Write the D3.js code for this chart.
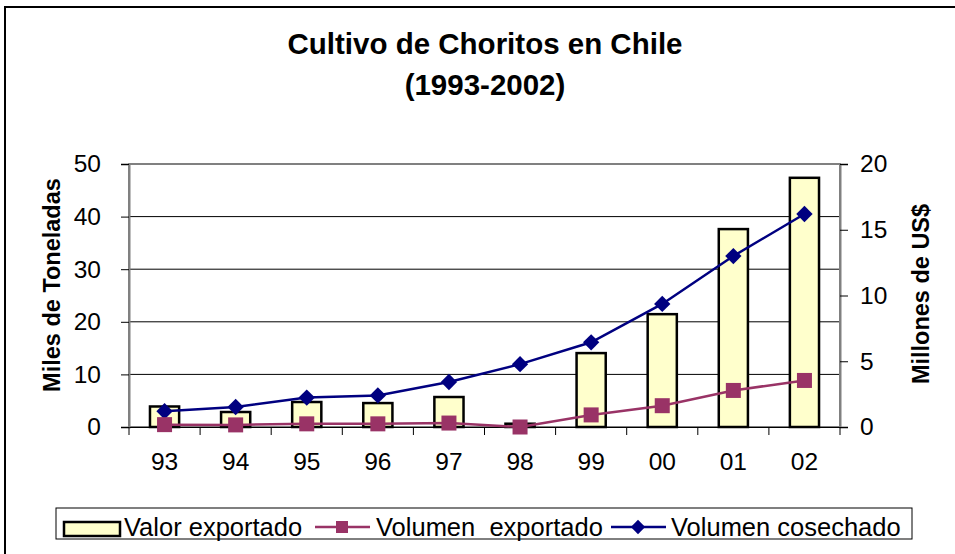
<!DOCTYPE html>
<html>
<head>
<meta charset="utf-8">
<script src="https://cdn.jsdelivr.net/npm/d3@7"></script>
<style>
  body { margin: 0; background: #fff; }
  svg { display: block; font-family: "Liberation Sans", Arial, sans-serif; }
</style>
</head>
<body>
<svg id="chart" width="955" height="554"></svg>
<script>
// data
var years = ["93", "94", "95", "96", "97", "98", "99", "00", "01", "02"];
var valorExportado = [1.56, 1.14, 1.9, 1.82, 2.28, 0.25, 5.62, 8.58, 15.05, 18.95];   // millones US$
var volumenExportado = [0.45, 0.4, 0.6, 0.6, 0.75, 0.0, 2.3, 4.05, 6.95, 8.85];       // miles de toneladas
var volumenCosechado = [3.0, 3.8, 5.6, 6.0, 8.55, 11.95, 16.1, 23.4, 32.5, 40.5];     // miles de toneladas
var leftTicks = [0, 10, 20, 30, 40, 50];
var rightTicks = [0, 5, 10, 15, 20];

var svg = d3.select("#chart");
var pLeft = 129, pRight = 840, pTop = 164, pBottom = 427;

var x = d3.scaleBand().domain(years).range([pLeft, pRight]).padding(0);
var yL = d3.scaleLinear().domain([0, 50]).range([pBottom, pTop]);
var yR = d3.scaleLinear().domain([0, 20]).range([pBottom, pTop]);
var barW = x.bandwidth() * 0.41;
var cx = function(d) { return x(d) + x.bandwidth() / 2; };

// outer frame
svg.append("rect").attr("x", 5).attr("y", 7).attr("width", 980).attr("height", 580)
  .attr("fill", "none").attr("stroke", "#000").attr("stroke-width", 2);

// title
svg.append("text").attr("x", 485).attr("y", 54).attr("text-anchor", "middle")
  .attr("font-size", 29.5).attr("font-weight", "bold").text("Cultivo de Choritos en Chile");
svg.append("text").attr("x", 485).attr("y", 95).attr("text-anchor", "middle")
  .attr("font-size", 29.5).attr("font-weight", "bold").text("(1993-2002)");

// gridlines
svg.append("g").selectAll("line").data(leftTicks.slice(1, -1)).enter().append("line")
  .attr("x1", pLeft).attr("x2", pRight)
  .attr("y1", function(d) { return yL(d); }).attr("y2", function(d) { return yL(d); })
  .attr("stroke", "#000").attr("stroke-width", 1);

// plot area border (gray)
svg.append("rect").attr("x", pLeft).attr("y", pTop).attr("width", pRight - pLeft).attr("height", pBottom - pTop)
  .attr("fill", "none").attr("stroke", "#808080").attr("stroke-width", 2);

// bars (right axis)
svg.append("g").selectAll("rect").data(years).enter().append("rect")
  .attr("x", function(d) { return cx(d) - barW / 2; })
  .attr("y", function(d, i) { return yR(valorExportado[i]); })
  .attr("width", barW)
  .attr("height", function(d, i) { return pBottom - yR(valorExportado[i]); })
  .attr("fill", "#FFFFCC").attr("stroke", "#000").attr("stroke-width", 2.5);

// axes
var axisL = svg.append("g").attr("transform", "translate(" + pLeft + ",0)")
  .call(d3.axisLeft(yL).tickValues(leftTicks).tickSize(8).tickPadding(20));
var axisR = svg.append("g").attr("transform", "translate(" + pRight + ",0)")
  .call(d3.axisRight(yR).tickValues(rightTicks).tickSize(8).tickPadding(12));
var axisB = svg.append("g").attr("transform", "translate(0," + pBottom + ")")
  .call(d3.axisBottom(x).tickSize(0).tickPadding(26));
// category ticks sit on band edges
svg.append("g").selectAll("line").data(years.concat(["end"])).enter().append("line")
  .attr("x1", function(d, i) { return pLeft + i * x.step(); })
  .attr("x2", function(d, i) { return pLeft + i * x.step(); })
  .attr("y1", pBottom).attr("y2", pBottom + 8)
  .attr("stroke", "#000");

[axisL, axisR, axisB].forEach(function(a) {
  a.selectAll("text").attr("font-size", 24.5).attr("fill", "#000")
    .attr("font-family", "'Liberation Sans', Arial, sans-serif");
  a.selectAll("line").attr("stroke", "#000");
  a.select(".domain").attr("stroke", "#000");
});
axisR.select(".domain").attr("stroke", "#808080").attr("stroke-width", 2);
axisL.select(".domain").attr("stroke", "#808080").attr("stroke-width", 2);

// axis titles
svg.append("text").attr("transform", "translate(60,285) rotate(-90)").attr("text-anchor", "middle")
  .attr("font-size", 23.5).attr("font-weight", "bold").text("Miles de Toneladas");
svg.append("text").attr("transform", "translate(929,294) rotate(-90)").attr("text-anchor", "middle")
  .attr("font-size", 23.5).attr("font-weight", "bold").text("Millones de US$");

// lines (left axis)
var line = d3.line().x(function(d) { return cx(d.k); }).y(function(d) { return yL(d.v); });
var cosechado = years.map(function(k, i) { return { k: k, v: volumenCosechado[i] }; });
var exportado = years.map(function(k, i) { return { k: k, v: volumenExportado[i] }; });

svg.append("path").datum(cosechado).attr("d", line)
  .attr("fill", "none").attr("stroke", "#000080").attr("stroke-width", 2.5);
var diamond = d3.symbol().type(d3.symbolDiamond2).size(170);
svg.append("g").selectAll("path").data(cosechado).enter().append("path")
  .attr("d", diamond)
  .attr("transform", function(d) { return "translate(" + cx(d.k) + "," + yL(d.v) + ")"; })
  .attr("fill", "#000080");

svg.append("path").datum(exportado).attr("d", line)
  .attr("fill", "none").attr("stroke", "#993366").attr("stroke-width", 2.5);
svg.append("g").selectAll("rect").data(exportado).enter().append("rect")
  .attr("x", function(d) { return cx(d.k) - 7.5; })
  .attr("y", function(d) { return yL(d.v) - 7.5; })
  .attr("width", 15).attr("height", 15)
  .attr("fill", "#993366");

// legend
var lg = svg.append("g");
lg.append("rect").attr("x", 56).attr("y", 508).attr("width", 856).attr("height", 31)
  .attr("fill", "#fff").attr("stroke", "#000").attr("stroke-width", 1);
lg.append("rect").attr("x", 64).attr("y", 522).attr("width", 56).attr("height", 14)
  .attr("fill", "#FFFFCC").attr("stroke", "#000").attr("stroke-width", 2.5);
lg.append("text").attr("x", 124).attr("y", 536).attr("font-size", 25.5).text("Valor exportado");

lg.append("line").attr("x1", 315).attr("x2", 370).attr("y1", 527).attr("y2", 527)
  .attr("stroke", "#993366").attr("stroke-width", 2.5);
lg.append("rect").attr("x", 336).attr("y", 521).attr("width", 12).attr("height", 12).attr("fill", "#993366");
lg.append("text").attr("x", 376).attr("y", 536).attr("font-size", 25.5)
  .style("white-space", "pre").text("Volumen  exportado");

lg.append("line").attr("x1", 611).attr("x2", 666).attr("y1", 527).attr("y2", 527)
  .attr("stroke", "#000080").attr("stroke-width", 2.5);
lg.append("path").attr("d", d3.symbol().type(d3.symbolDiamond2).size(130))
  .attr("transform", "translate(638,527)").attr("fill", "#000080");
lg.append("text").attr("x", 671).attr("y", 536).attr("font-size", 25.5).text("Volumen cosechado");
</script>
</body>
</html>
